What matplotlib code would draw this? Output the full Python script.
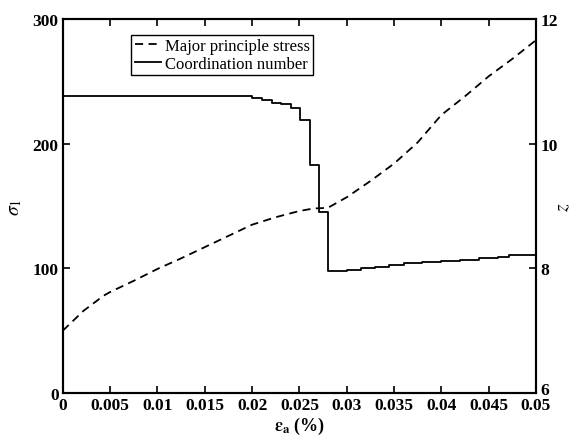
import numpy as np
import matplotlib
matplotlib.use("Agg")
import matplotlib.pyplot as plt
import matplotlib.transforms as mtransforms

# Major principle stress (left axis)
eps_s = [0, 0.0022, 0.0043, 0.005, 0.0075, 0.01, 0.0125, 0.015, 0.0175, 0.02,
         0.0225, 0.025, 0.0265, 0.028, 0.03, 0.0325, 0.035, 0.0375, 0.04,
         0.0425, 0.045, 0.0475, 0.05]
sigma1 = [50, 66, 78, 81, 90, 99.5, 108, 117, 126, 135,
          141, 146, 148, 148.5, 157, 170, 184, 201, 223,
          238, 254, 268, 283]

# Coordination number (right axis), step data
eps_z = [0, 0.0200, 0.0210, 0.0221, 0.0231, 0.0241, 0.0251, 0.0261, 0.0271,
         0.02805, 0.0289, 0.0300, 0.0315, 0.0330, 0.0345, 0.0360, 0.0380,
         0.0400, 0.0420, 0.0440, 0.0460, 0.0472, 0.05]
z = [10.77, 10.73, 10.70, 10.65, 10.63, 10.57, 10.38, 9.66, 8.91,
     7.95, 7.96, 7.98, 8.00, 8.02, 8.05, 8.08, 8.10,
     8.12, 8.14, 8.16, 8.18, 8.22, 8.22]

xticks = [0, 0.005, 0.01, 0.015, 0.02, 0.025, 0.03, 0.035, 0.04, 0.045, 0.05]
xticklabels = ["0", "0.005", "0.01", "0.015", "0.02", "0.025", "0.03",
               "0.035", "0.04", "0.045", "0.05"]

plt.rcParams["font.family"] = ["Liberation Serif", "DejaVu Serif"]
plt.rcParams["mathtext.fontset"] = "stix"

fig = plt.figure(figsize=(5.71, 4.39), dpi=100)
ax = fig.add_axes([0.110, 0.1025, 0.8287, 0.852])
ax2 = ax.twinx()

l1, = ax.plot(eps_s, sigma1, color="black", lw=1.3, linestyle=(0, (4.5, 3)),
              label="Major principle stress")
l2, = ax2.plot(eps_z, z, color="black", lw=1.3, drawstyle="steps-post",
               label="Coordination number")

ax.set_xlim(0, 0.05)
ax.set_ylim(0, 300)
ax2.set_ylim(6, 12)
ax.set_xticks(xticks)
ax.set_xticklabels(xticklabels, fontweight="bold", fontsize=12.5)
ax.set_yticks([0, 100, 200, 300])
ax.set_yticklabels(["0", "100", "200", "300"], fontweight="bold", fontsize=12.5)
ax2.set_yticks([6, 8, 10, 12])
ax2.set_yticklabels(["6", "8", "10", "12"], fontweight="bold", fontsize=12.5)

ax.tick_params(direction="in", length=5, width=1.2, top=True, pad=3)
ax2.tick_params(direction="in", length=5, width=1.2, pad=3)
for a in (ax, ax2):
    for s in a.spines.values():
        s.set_linewidth(1.5)

# lift the bottom right tick label a little, as in the original
lbl6 = ax2.get_yticklabels()[0]
lbl6.set_transform(lbl6.get_transform() +
                   mtransforms.ScaledTranslation(0, 5 / 100, fig.dpi_scale_trans))

ax.set_xlabel(r"$\mathbf{\epsilon}_{\mathbf{a}}$ (%)", fontsize=13,
              fontweight="bold", labelpad=1)
ax.set_ylabel(r"$\sigma_1$", fontsize=14, labelpad=6)
ax2.set_ylabel(r"$z$", fontsize=14, labelpad=-2)

leg = ax.legend(handles=[l1, l2], loc="upper left",
                bbox_to_anchor=(0.145, 0.958), borderaxespad=0,
                fontsize=12, handlelength=1.6, handletextpad=0.2,
                labelspacing=0.1, borderpad=0.2, fancybox=False,
                framealpha=1, edgecolor="black")
leg.get_frame().set_linewidth(1.0)

fig.savefig("out.png", dpi=100)
